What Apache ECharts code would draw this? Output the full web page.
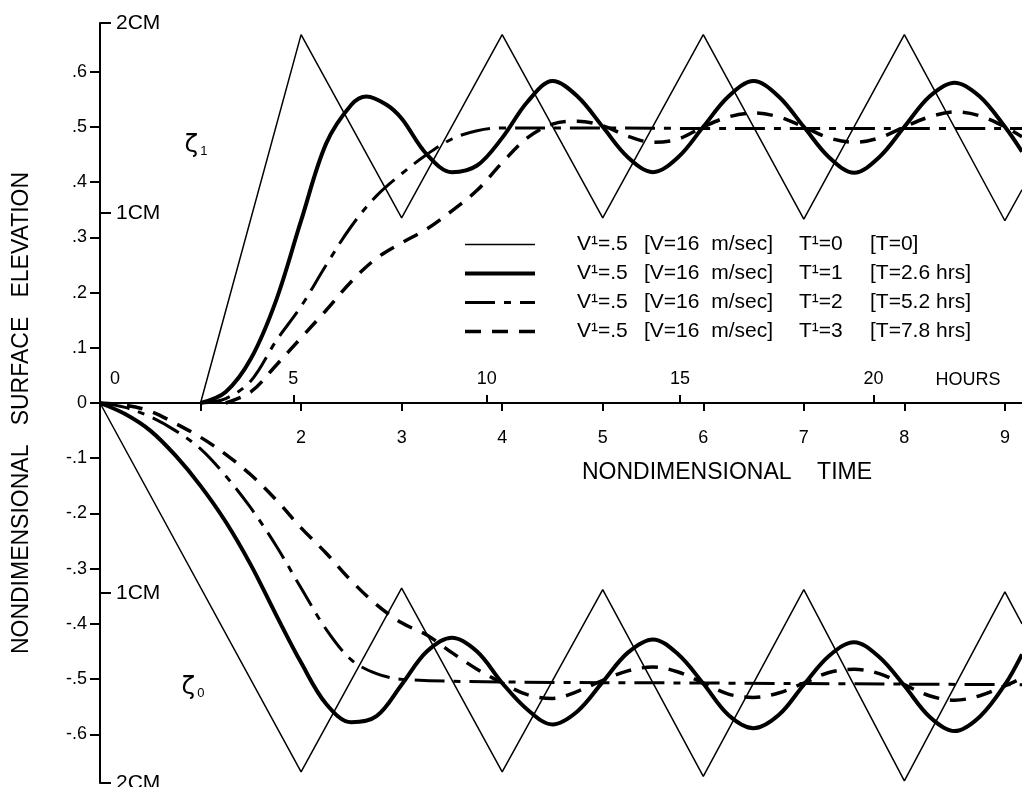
<!DOCTYPE html>
<html>
<head>
<meta charset="utf-8">
<title>Nondimensional surface elevation</title>
<script src="https://cdn.jsdelivr.net/npm/echarts@6/dist/echarts.min.js"></script>
<style>
html, body { margin: 0; padding: 0; background: #fff; }
#main { width: 1022px; height: 787px; }
</style>
</head>
<body>
<div id="main"></div>
<script>
// axes
var timeTicks = [1, 2, 3, 4, 5, 6, 7, 8, 9]
var timeLabels = [2, 3, 4, 5, 6, 7, 8, 9]
var hourTicks = [5, 10, 15, 20]
var hourLabels = [0, 5, 10, 15, 20]
var hoursPerUnit = 2.6
var elevTicks = [-0.6, -0.5, -0.4, -0.3, -0.2, -0.1, 0, 0.1, 0.2, 0.3, 0.4, 0.5, 0.6]
var cmTicks = [0.688, 0.344, -0.344, -0.688]
var cmLabels = ['2CM', '1CM', '1CM', '2CM']
var tMax = 9.17
var elevMax = 0.688

// legend texts
var lagNames = ['T¹=0', 'T¹=1', 'T¹=2', 'T¹=3']
var lagHours = ['[T=0]', '[T=2.6 hrs]', '[T=5.2 hrs]', '[T=7.8 hrs]']
var windText = 'V¹=.5'
var windDim = '[V=16  m/sec]'

// zeta 1 (upper curves), [time, elevation]
var up0 = [[1, 0], [2, 0.667], [3, 0.335], [4, 0.667], [5, 0.335], [6, 0.667], [7, 0.333], [8, 0.667], [9, 0.33], [9.17, 0.386]]
var up1 = [[1, 0], [1.25, 0.02], [1.5, 0.08], [1.75, 0.185], [2, 0.33], [2.25, 0.47], [2.5, 0.54], [2.65, 0.555],
  [2.85, 0.54], [3, 0.515], [3.25, 0.45], [3.5, 0.418], [3.75, 0.43], [4, 0.48], [4.25, 0.545], [4.5, 0.583],
  [4.75, 0.555], [5, 0.5], [5.25, 0.445], [5.5, 0.418], [5.75, 0.445], [6, 0.5], [6.25, 0.555], [6.5, 0.583],
  [6.75, 0.555], [7, 0.5], [7.25, 0.445], [7.5, 0.417], [7.75, 0.445], [8, 0.5], [8.25, 0.555], [8.5, 0.58],
  [8.75, 0.555], [9, 0.5], [9.17, 0.455]]
var up2 = [[1, 0], [1.25, 0.008], [1.5, 0.04], [1.75, 0.112], [2, 0.175], [2.25, 0.25], [2.5, 0.32], [2.75, 0.375],
  [3, 0.415], [3.25, 0.45], [3.5, 0.478], [3.75, 0.493], [4, 0.498], [5, 0.498], [6, 0.497], [7, 0.497],
  [8, 0.497], [9.17, 0.497]]
var up3 = [[1.25, 0], [1.5, 0.02], [1.75, 0.068], [2, 0.118], [2.25, 0.168], [2.5, 0.22], [2.75, 0.262], [3, 0.29],
  [3.25, 0.315], [3.5, 0.348], [3.75, 0.385], [4, 0.435], [4.25, 0.48], [4.5, 0.505], [4.75, 0.51], [5, 0.502],
  [5.25, 0.483], [5.5, 0.472], [5.75, 0.478], [6, 0.5], [6.25, 0.518], [6.5, 0.525], [6.75, 0.518], [7, 0.5],
  [7.25, 0.48], [7.5, 0.472], [7.75, 0.48], [8, 0.5], [8.25, 0.518], [8.5, 0.527], [8.75, 0.52], [9, 0.5],
  [9.17, 0.482]]

// zeta 0 (lower curves)
var low0 = [[0, 0], [2, -0.668], [3, -0.335], [4, -0.668], [5, -0.338], [6, -0.676], [7, -0.338], [8, -0.684], [9, -0.342], [9.17, -0.4]]
var low1 = [[0, 0], [0.25, -0.02], [0.5, -0.05], [0.75, -0.095], [1, -0.15], [1.25, -0.215], [1.5, -0.293],
  [1.75, -0.383], [2, -0.47], [2.25, -0.545], [2.5, -0.578], [2.75, -0.567], [3, -0.51], [3.25, -0.45], [3.5, -0.425],
  [3.75, -0.45], [4, -0.507], [4.25, -0.555], [4.5, -0.582], [4.75, -0.558], [5, -0.505], [5.25, -0.452],
  [5.5, -0.428], [5.75, -0.455], [6, -0.508], [6.25, -0.565], [6.5, -0.589], [6.75, -0.565], [7, -0.51],
  [7.25, -0.458], [7.5, -0.433], [7.75, -0.46], [8, -0.512], [8.25, -0.568], [8.5, -0.594], [8.75, -0.568],
  [9, -0.51], [9.17, -0.455]]
var low2 = [[0, 0], [0.25, -0.008], [0.5, -0.025], [0.75, -0.05], [1, -0.083], [1.25, -0.132], [1.5, -0.19],
  [1.75, -0.258], [2, -0.335], [2.25, -0.41], [2.5, -0.465], [2.75, -0.49], [3, -0.5], [4, -0.505], [6, -0.507],
  [8, -0.509], [9.17, -0.51]]
var low3 = [[0, 0], [0.25, -0.004], [0.5, -0.015], [0.75, -0.037], [1, -0.062], [1.25, -0.093], [1.5, -0.13],
  [1.75, -0.175], [2, -0.226], [2.25, -0.272], [2.5, -0.322], [2.75, -0.365], [3, -0.398], [3.25, -0.42],
  [3.5, -0.452], [3.75, -0.482], [4, -0.507], [4.25, -0.528], [4.5, -0.535], [4.75, -0.522], [5, -0.502],
  [5.25, -0.485], [5.5, -0.478], [5.75, -0.487], [6, -0.507], [6.25, -0.527], [6.5, -0.533], [6.75, -0.525],
  [7, -0.507], [7.25, -0.488], [7.5, -0.482], [7.75, -0.49], [8, -0.51], [8.25, -0.53], [8.5, -0.538],
  [8.75, -0.53], [9, -0.512], [9.17, -0.498]]

var font = 'Liberation Sans, Arial, sans-serif'
var styles = [
  { width: 1.5, type: 'solid' },
  { width: 4, type: 'solid' },
  { width: 3, type: [30, 9, 7, 9] },
  { width: 3.5, type: [16, 11] }
]
var upper = [up0, up1, up2, up3]
var lower = [low0, low1, low2, low3]

function elevLabel (v) {
  if (v === 0) return '0'
  return v.toFixed(1).replace('0.', '.')
}

var series = []
for (var i = 0; i < 4; i++) {
  [upper[i], lower[i]].forEach(function (d) {
    series.push({
      name: lagNames[i],
      type: 'line',
      data: d,
      symbol: 'none',
      smooth: i === 0 ? false : 0.35,
      lineStyle: { color: '#000', width: styles[i].width, type: styles[i].type, cap: 'butt' },
      itemStyle: { color: '#000' },
      silent: true
    })
  })
}

var legendData = lagNames.map(function (n, k) {
  return { name: n, lineStyle: { color: '#000', width: styles[k].width, type: styles[k].type } }
})

// zero line sits 380px above the bottom of the grid
var zeroOffset = -380

var chart = echarts.init(document.getElementById('main'))
chart.setOption({
  animation: false,
  backgroundColor: '#fff',
  textStyle: { fontFamily: font, color: '#000' },
  grid: { left: 100, right: 0, top: 23, bottom: 4, containLabel: false, outerBoundsMode: 'none' },
  legend: {
    orient: 'vertical',
    left: 463,
    top: 234,
    padding: 0,
    itemWidth: 70,
    itemHeight: 14,
    itemGap: 8,
    selectedMode: false,
    data: legendData,
    itemStyle: { color: 'rgba(0,0,0,0)', borderWidth: 0 },
    formatter: function (name) {
      var k = lagNames.indexOf(name)
      return '{a|' + windText + '}{b|' + windDim + '}{c|' + name + '}{d|' + lagHours[k] + '}'
    },
    textStyle: {
      fontFamily: font,
      fontSize: 21,
      color: '#000',
      rich: {
        a: { fontSize: 21, fontFamily: font, width: 67, padding: [0, 0, 0, 37] },
        b: { fontSize: 21, fontFamily: font, width: 155 },
        c: { fontSize: 21, fontFamily: font, width: 71 },
        d: { fontSize: 21, fontFamily: font }
      }
    }
  },
  xAxis: [
    {
      type: 'value',
      min: 0,
      max: tMax,
      position: 'bottom',
      offset: zeroOffset,
      axisLine: { onZero: false, lineStyle: { color: '#000', width: 2 } },
      axisTick: { show: true, length: 8, lineStyle: { color: '#000', width: 2 }, customValues: timeTicks },
      axisLabel: { customValues: timeLabels, margin: 26, fontSize: 18, color: '#000', fontFamily: font },
      splitLine: { show: false }
    },
    {
      type: 'value',
      min: 0,
      max: tMax * hoursPerUnit,
      position: 'bottom',
      offset: zeroOffset,
      axisLine: { show: false, onZero: false },
      axisTick: { show: true, inside: true, length: 8, lineStyle: { color: '#000', width: 2 }, customValues: hourTicks },
      axisLabel: {
        inside: true,
        customValues: hourLabels,
        margin: 15,
        fontSize: 18,
        color: '#000',
        fontFamily: font,
        formatter: function (v) {
          return v === 0 ? '{z|0}' : String(v)
        },
        rich: { z: { fontSize: 18, fontFamily: font, padding: [0, 0, 0, 30] } }
      },
      splitLine: { show: false }
    }
  ],
  yAxis: [
    {
      type: 'value',
      min: -elevMax,
      max: elevMax,
      position: 'left',
      axisLine: { show: true, onZero: false, lineStyle: { color: '#000', width: 2 } },
      axisTick: { show: true, length: 10, lineStyle: { color: '#000', width: 2 }, customValues: elevTicks },
      axisLabel: {
        customValues: elevTicks,
        margin: 13,
        fontSize: 18,
        color: '#000',
        fontFamily: font,
        formatter: elevLabel
      },
      splitLine: { show: false }
    },
    {
      type: 'value',
      min: -elevMax,
      max: elevMax,
      position: 'left',
      axisLine: { show: false, onZero: false },
      axisTick: { show: true, inside: true, length: 11, lineStyle: { color: '#000', width: 2 }, customValues: cmTicks },
      axisLabel: {
        inside: true,
        customValues: cmTicks,
        margin: 16,
        fontSize: 21,
        color: '#000',
        fontFamily: font,
        formatter: function (v) {
          return cmLabels[cmTicks.indexOf(v)]
        }
      },
      splitLine: { show: false }
    }
  ],
  graphic: [
    {
      type: 'text',
      x: 22,
      y: 413,
      rotation: Math.PI / 2,
      style: {
        text: 'NONDIMENSIONAL   SURFACE   ELEVATION',
        font: '23px ' + font,
        fill: '#000',
        align: 'center',
        verticalAlign: 'middle'
      }
    },
    {
      type: 'text',
      x: 727,
      y: 473,
      style: {
        text: 'NONDIMENSIONAL    TIME',
        font: '23px ' + font,
        fill: '#000',
        align: 'center',
        verticalAlign: 'middle'
      }
    },
    {
      type: 'text',
      x: 968,
      y: 380,
      style: { text: 'HOURS', font: '18px ' + font, fill: '#000', align: 'center', verticalAlign: 'middle' }
    },
    {
      type: 'text',
      x: 196,
      y: 145,
      style: {
        text: '{z|ζ}{s|1}',
        align: 'center',
        verticalAlign: 'middle',
        rich: {
          z: { fontSize: 25, fontFamily: 'DejaVu Sans', fill: '#000' },
          s: { fontSize: 13, fontFamily: font, fill: '#000', padding: [12, 0, 0, 2] }
        }
      }
    },
    {
      type: 'text',
      x: 193,
      y: 687,
      style: {
        text: '{z|ζ}{s|0}',
        align: 'center',
        verticalAlign: 'middle',
        rich: {
          z: { fontSize: 25, fontFamily: 'DejaVu Sans', fill: '#000' },
          s: { fontSize: 13, fontFamily: font, fill: '#000', padding: [12, 0, 0, 2] }
        }
      }
    }
  ],
  series: series
})
</script>
</body>
</html>
